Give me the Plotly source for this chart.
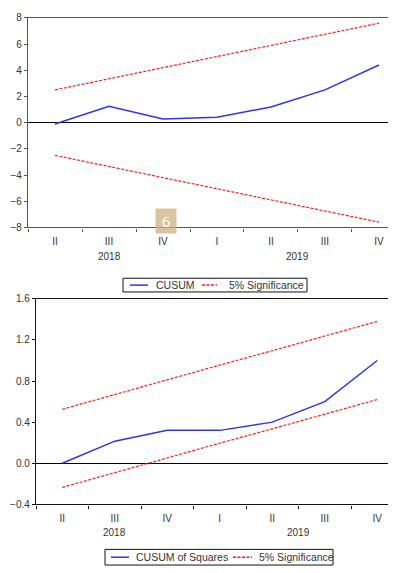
import plotly.graph_objects as go

# page body has an 8px margin, so the figure is sized to fill the rest of the window
OFF = 8
FW, FH = 396 - OFF, 573 - OFF

quarters = ["II", "III", "IV", "I", "II", "III", "IV"]
years = ["2018", "2019"]
year_pos = [1, 4.5]
xidx = list(range(len(quarters)))

cusum = [-0.1, 1.25, 0.28, 0.42, 1.2, 2.5, 4.4]
cusum_upper = [2.5, 3.35, 4.2, 5.05, 5.9, 6.75, 7.6]
cusum_lower = [-2.5, -3.35, -4.2, -5.05, -5.9, -6.75, -7.6]

cusumsq = [0.0, 0.215, 0.32, 0.32, 0.40, 0.60, 1.0]
sq_upper = [0.525, 0.67, 0.81, 0.955, 1.095, 1.24, 1.38]
sq_lower = [-0.235, -0.09, 0.05, 0.195, 0.335, 0.48, 0.62]

legend1_labels = ["CUSUM", "5% Significance"]
legend2_labels = ["CUSUM of Squares", "5% Significance"]


def px(x):  # reference-window x pixel -> paper fraction
    return (x - OFF) / FW


def py(y):  # reference-window y pixel -> paper fraction
    return 1 - (y - OFF) / FH


FONT = "Liberation Sans, Arial, sans-serif"
BLUE = "#3030ff"
RED = "#ff1e1e"
DASH = "3px,1.5px"
TXT = "#333"

fig = go.Figure()

# chart 1: CUSUM
fig.add_trace(go.Scatter(x=xidx, y=cusum, mode="lines", name=legend1_labels[0],
                         line=dict(color=BLUE, width=1.5), xaxis="x", yaxis="y"))
fig.add_trace(go.Scatter(x=xidx, y=cusum_upper, mode="lines", name=legend1_labels[1],
                         line=dict(color=RED, width=1.2, dash=DASH), xaxis="x", yaxis="y"))
fig.add_trace(go.Scatter(x=xidx, y=cusum_lower, mode="lines", name=legend1_labels[1],
                         line=dict(color=RED, width=1.2, dash=DASH), xaxis="x", yaxis="y"))
# chart 2: CUSUM of squares
fig.add_trace(go.Scatter(x=xidx, y=cusumsq, mode="lines", name=legend2_labels[0],
                         line=dict(color=BLUE, width=1.5), xaxis="x2", yaxis="y2"))
fig.add_trace(go.Scatter(x=xidx, y=sq_upper, mode="lines", name=legend2_labels[1],
                         line=dict(color=RED, width=1.2, dash=DASH), xaxis="x2", yaxis="y2"))
fig.add_trace(go.Scatter(x=xidx, y=sq_lower, mode="lines", name=legend2_labels[1],
                         line=dict(color=RED, width=1.2, dash=DASH), xaxis="x2", yaxis="y2"))

tickfont = dict(family=FONT, size=10, color=TXT)


def xaxis(domain, anchor, right, color):
    return dict(domain=domain, anchor=anchor, range=[-0.5, right],
                tickmode="array", tickvals=xidx, ticktext=quarters,
                ticks="outside", ticklen=4, tickcolor="rgba(0,0,0,0)",
                showline=True, linecolor=color, linewidth=1.3, mirror=True,
                showgrid=False, zeroline=False, tickfont=tickfont,
                minor=dict(tickmode="linear", tick0=-0.5, dtick=1, ticks="outside",
                           ticklen=3, tickcolor=color, tickwidth=1.2))


def yaxis(domain, anchor, rng, dtick, fmt, color):
    return dict(domain=domain, anchor=anchor, range=rng, dtick=dtick, tickformat=fmt,
                ticks="outside", ticklen=3, tickcolor=color,
                showline=True, linecolor=color, linewidth=1.3,
                showgrid=False, zeroline=True, zerolinecolor="#000", zerolinewidth=1.2,
                tickfont=tickfont)


fig.update_layout(
    width=FW, height=FH, margin=dict(l=0, r=0, t=0, b=0),
    paper_bgcolor="white", plot_bgcolor="white",
    xaxis=xaxis([px(28), 1], "y", 6.315, "#555"),
    yaxis=yaxis([py(226), py(12)], "x", [-8, 8], 2, "d", "#555"),
    xaxis2=xaxis([px(36), 1], "y2", 6.357, "#111"),
    yaxis2=yaxis([py(509), py(299)], "x2", [-0.4, 1.6], 0.4, ".1f", "#111"),
    showlegend=False,
)

# year labels under the quarter ticks
for i, yr in enumerate(years):
    fig.add_annotation(x=year_pos[i], y=py(256), xref="x", yref="paper", text=yr,
                       xanchor="center", yanchor="middle", showarrow=False,
                       font=dict(family=FONT, size=10, color=TXT))
    fig.add_annotation(x=year_pos[i], y=py(538), xref="x2", yref="paper", text=yr,
                       xanchor="center", yanchor="middle", showarrow=False,
                       font=dict(family=FONT, size=10, color=TXT))


# boxed legends under each chart
def legend(box, yc, items):
    x0, x1, y0, y1 = box
    fig.add_shape(type="rect", xref="paper", yref="paper",
                  x0=px(x0), x1=px(x1), y0=py(y1), y1=py(y0),
                  line=dict(color="#111", width=1), fillcolor="white")
    for (s0, s1, tx, label, color, dash) in items:
        fig.add_shape(type="line", xref="paper", yref="paper",
                      x0=px(s0), x1=px(s1), y0=py(yc), y1=py(yc),
                      line=dict(color=color, width=1.5, dash=dash))
        fig.add_annotation(x=px(tx), y=py(yc), xref="paper", yref="paper", text=label,
                           xanchor="left", yanchor="middle", showarrow=False,
                           font=dict(family=FONT, size=10.5, color=TXT))


legend((123, 307, 278, 292), 285,
       [(130, 148, 154, legend1_labels[0], BLUE, "solid"),
        (202, 217, 227, legend1_labels[1], RED, DASH)])
legend((105, 333, 555, 571), 563,
       [(111, 129, 134, legend2_labels[0], BLUE, "solid"),
        (233, 252, 257, legend2_labels[1], RED, DASH)])

# page-number badge overlay present in the reference image
fig.add_annotation(x=px(166), y=py(220), xref="paper", yref="paper", text="6",
                   xanchor="center", yanchor="middle",
                   showarrow=False, bgcolor="rgba(205,175,125,0.75)",
                   font=dict(family="Noto Sans, sans-serif", size=15, color="white"),
                   width=20, height=24, borderpad=0)

fig.write_html("out.html")
